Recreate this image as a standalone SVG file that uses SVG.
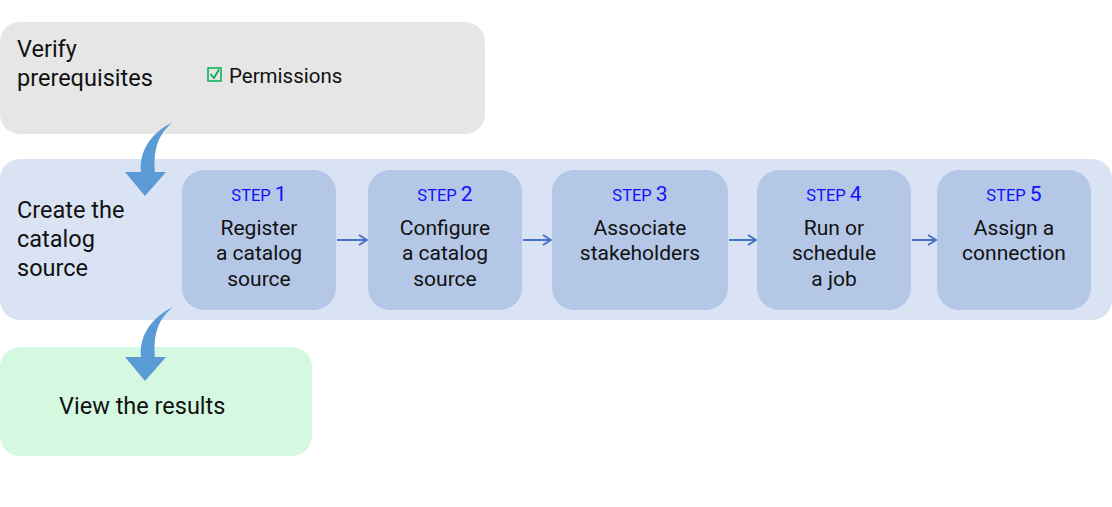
<svg xmlns="http://www.w3.org/2000/svg" width="1112" height="507" viewBox="0 0 1112 507">
<style>
text{font-family:Roboto,"Liberation Sans",sans-serif;fill:#111}
.t{font-size:23.5px}
.s{font-size:21px;text-anchor:middle}
.st{font-size:16.5px;fill:#1010ff;text-anchor:middle}
.st tspan{font-size:21px}
.box{fill:#b4c7e7}
.con{stroke:#4472c4;stroke-width:2;fill:none}
.big{fill:#5b9bd5}
</style>
<defs><marker id="ah" markerWidth="10" markerHeight="12" refX="9" refY="6" orient="auto" markerUnits="userSpaceOnUse"><path d="M1,1 L9,6 L1,11" fill="none" stroke="#4472c4" stroke-width="2"/></marker></defs>
<g id="prereq"><rect x="0" y="22" width="485" height="112" rx="20" fill="#e6e6e6"/>
<text class="t" x="17" y="57">Verify</text><text class="t" x="17" y="86">prerequisites</text>
<rect x="208" y="68" width="13" height="13" fill="none" stroke="#00b050" stroke-width="1.5"/>
<path d="M210.5,74 L214,78 L219,69.5" fill="none" stroke="#00b050" stroke-width="1.8"/>
<text x="229" y="83" style="font-size:20.5px">Permissions</text></g>
<g id="create"><rect x="0" y="159" width="1112" height="161" rx="20" fill="#dae3f3"/>
<text class="t" x="17" y="218">Create the</text><text class="t" x="17" y="247">catalog</text><text class="t" x="17" y="276">source</text></g>
<g id="results"><rect x="0" y="347" width="312" height="109" rx="20" fill="#d5f8e0"/>
<text class="t" x="59" y="414">View the results</text></g>
<g id="step1"><rect class="box" x="182" y="170" width="154" height="140" rx="22"/>
<text class="st" x="259" y="201">STEP <tspan>1</tspan></text>
<text class="s" x="259" y="235">Register</text><text class="s" x="259" y="260">a catalog</text><text class="s" x="259" y="286">source</text></g>
<g id="step2"><rect class="box" x="368" y="170" width="154" height="140" rx="22"/>
<text class="st" x="445" y="201">STEP <tspan>2</tspan></text>
<text class="s" x="445" y="235">Configure</text><text class="s" x="445" y="260">a catalog</text><text class="s" x="445" y="286">source</text></g>
<g id="step3"><rect class="box" x="552" y="170" width="176" height="140" rx="22"/>
<text class="st" x="640" y="201">STEP <tspan>3</tspan></text>
<text class="s" x="640" y="235">Associate</text><text class="s" x="640" y="260">stakeholders</text></g>
<g id="step4"><rect class="box" x="757" y="170" width="154" height="140" rx="22"/>
<text class="st" x="834" y="201">STEP <tspan>4</tspan></text>
<text class="s" x="834" y="235">Run or</text><text class="s" x="834" y="260">schedule</text><text class="s" x="834" y="286">a job</text></g>
<g id="step5"><rect class="box" x="937" y="170" width="154" height="140" rx="22"/>
<text class="st" x="1014" y="201">STEP <tspan>5</tspan></text>
<text class="s" x="1014" y="235">Assign a</text><text class="s" x="1014" y="260">connection</text></g>
<g id="connectors">
<path class="big" d="M173,122 C150,133 139,152 141,172 L125,172 L145,196 L166,172 L155,172 C153,150 158,134 173,122 Z"/>
<path class="big" d="M173,307 C150,318 139,337 141,357 L125,357 L145,381 L166,357 L155,357 C153,335 158,319 173,307 Z"/>
<path class="con" d="M337,240 H367" marker-end="url(#ah)"/>
<path class="con" d="M523,240 H551" marker-end="url(#ah)"/>
<path class="con" d="M729,240 H756" marker-end="url(#ah)"/>
<path class="con" d="M912,240 H936" marker-end="url(#ah)"/>
</g>
</svg>
